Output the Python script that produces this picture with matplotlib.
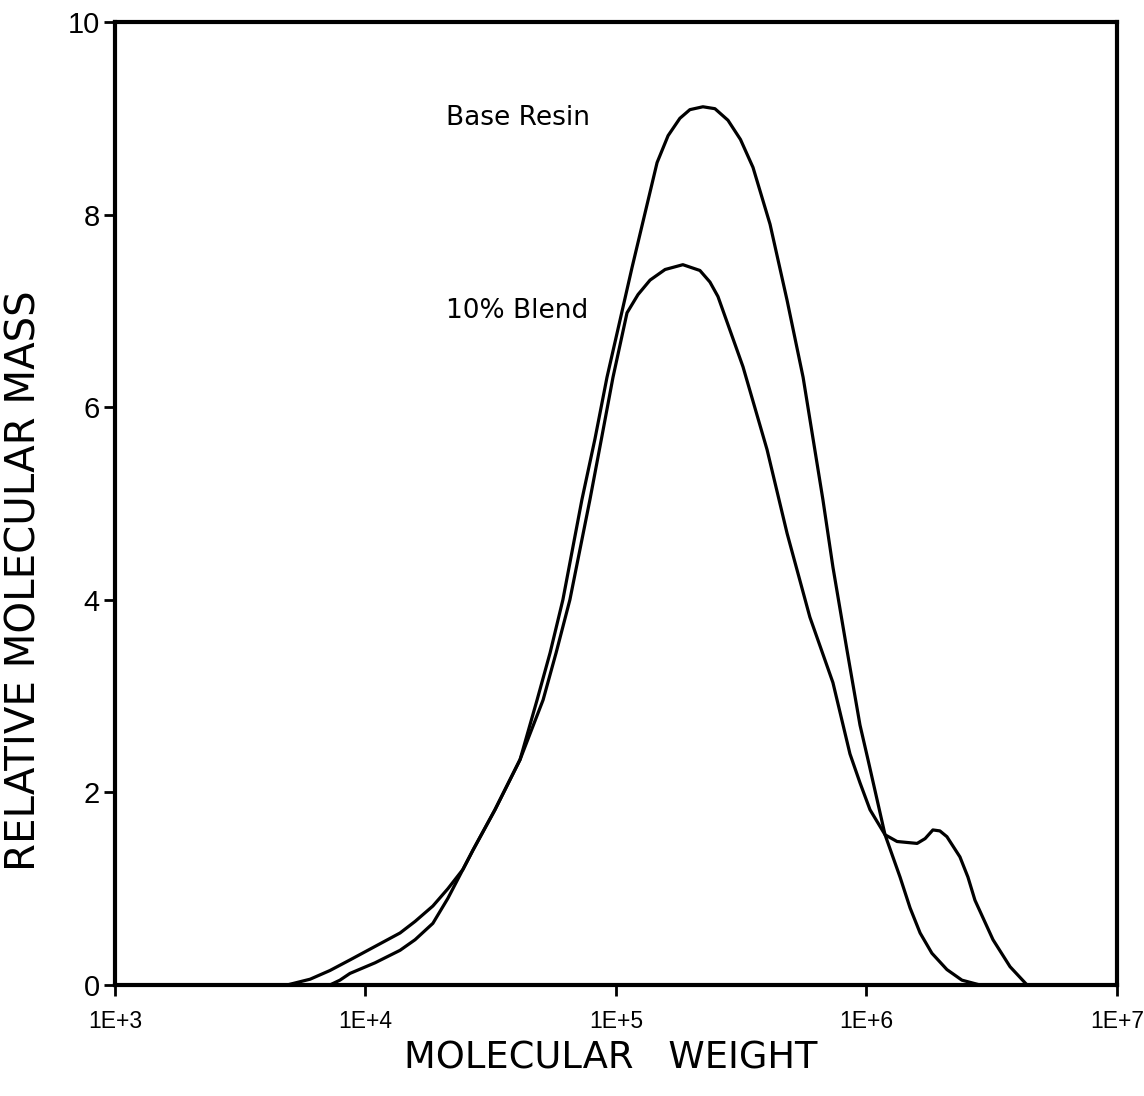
import numpy as np
import matplotlib
matplotlib.use("Agg")
import matplotlib.pyplot as plt

# log10(molecular weight) / relative molecular mass
base_logm = [3.858, 3.898, 3.938, 4.038, 4.138, 4.198, 4.269, 4.329, 4.389, 4.429,
             4.517, 4.617, 4.685, 4.737, 4.788, 4.864, 4.916, 4.964, 5.064, 5.164,
             5.208, 5.255, 5.295, 5.347, 5.395, 5.447, 5.497, 5.547, 5.615, 5.683,
             5.747, 5.826, 5.866, 5.922, 5.974, 6.006, 6.074, 6.134, 6.174, 6.214,
             6.261, 6.321, 6.381, 6.453]
base_mass = [0.0, 0.05, 0.12, 0.23, 0.36, 0.47, 0.64, 0.9, 1.2, 1.40,
             1.82, 2.34, 2.96, 3.45, 4.0, 5.04, 5.67, 6.31, 7.45, 8.54,
             8.82, 9.0, 9.09, 9.12, 9.1, 8.98, 8.78, 8.49, 7.9, 7.11,
             6.31, 5.04, 4.34, 3.48, 2.7, 2.34, 1.56, 1.12, 0.8, 0.54,
             0.33, 0.16, 0.05, 0.0]

blend_logm = [3.687, 3.779, 3.858, 3.938, 4.038, 4.138, 4.198, 4.269, 4.329, 4.389,
              4.429, 4.517, 4.617, 4.709, 4.761, 4.816, 4.896, 4.944, 4.988, 5.044,
              5.088, 5.136, 5.196, 5.267, 5.335, 5.375, 5.407, 5.507, 5.603, 5.683,
              5.774, 5.866, 5.934, 5.974, 6.014, 6.074, 6.122, 6.202, 6.234, 6.265,
              6.293, 6.321, 6.373, 6.405, 6.433, 6.505, 6.573, 6.641]
blend_mass = [0.0, 0.06, 0.15, 0.26, 0.40, 0.54, 0.66, 0.82, 1.0, 1.2,
              1.40, 1.82, 2.34, 2.96, 3.45, 4.0, 5.04, 5.7, 6.31, 6.98,
              7.17, 7.32, 7.43, 7.48, 7.42, 7.3, 7.15, 6.42, 5.56, 4.69,
              3.82, 3.14, 2.4, 2.10, 1.82, 1.56, 1.49, 1.47, 1.52, 1.61,
              1.6, 1.54, 1.33, 1.12, 0.88, 0.47, 0.19, 0.0]

x_ticks = [1e3, 1e4, 1e5, 1e6, 1e7]
x_tick_labels = ["1E+3", "1E+4", "1E+5", "1E+6", "1E+7"]
y_ticks = [0, 2, 4, 6, 8, 10]

tick_font = ["Liberation Sans", "DejaVu Sans"]

fig = plt.figure(figsize=(11.44, 10.96), dpi=100)
ax = fig.add_axes([0.1005, 0.1013, 0.8759, 0.8786])

ax.plot(10 ** np.array(base_logm), base_mass, color="black", lw=2.3,
        solid_capstyle="round", solid_joinstyle="round")
ax.plot(10 ** np.array(blend_logm), blend_mass, color="black", lw=2.3,
        solid_capstyle="round", solid_joinstyle="round")

ax.set_xscale("log")
ax.set_xlim(1e3, 1e7)
ax.set_ylim(0, 10)
ax.set_xticks(x_ticks)
ax.set_xticklabels(x_tick_labels, family=tick_font, fontsize=16.5)
ax.xaxis.set_minor_locator(matplotlib.ticker.NullLocator())
ax.set_yticks(y_ticks)
ax.set_yticklabels([str(v) for v in y_ticks], family=tick_font, fontsize=21)

for s in ax.spines.values():
    s.set_linewidth(3)

ax.tick_params(axis="both", direction="out", length=8, width=2)
ax.tick_params(axis="x", pad=10)
ax.tick_params(axis="y", pad=3)

ax.set_xlabel("MOLECULAR   WEIGHT", fontsize=26.5)
ax.xaxis.set_label_coords(0.495, -0.057)
ax.set_ylabel("RELATIVE MOLECULAR MASS", fontsize=29)
ax.yaxis.set_label_coords(-0.07, 0.42)

ax.text(2.1e4, 9.0, "Base Resin", fontsize=19, ha="left", va="center")
ax.text(2.1e4, 7.0, "10% Blend", fontsize=19, ha="left", va="center")

fig.savefig("out.png", dpi=100)
